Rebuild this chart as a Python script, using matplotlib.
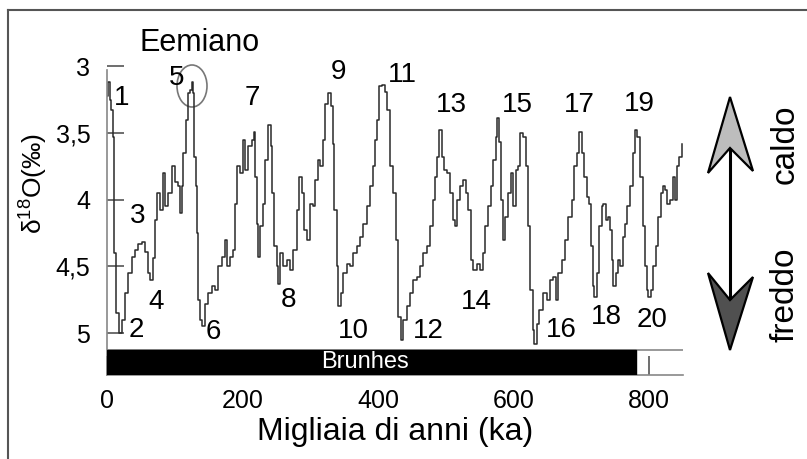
import matplotlib
matplotlib.use("Agg")
import matplotlib.pyplot as plt
from matplotlib.patches import Polygon, Ellipse, Rectangle

plt.rcParams['font.family'] = ['Liberation Sans', 'DejaVu Sans']
plt.rcParams['mathtext.fontset'] = 'custom'
plt.rcParams['mathtext.rm'] = 'Liberation Sans'

# curva delta18O (ka, per mille)
eta = [0, 2, 4, 6, 9, 11, 13, 18, 22, 27, 31, 37, 41, 46, 52, 56, 60, 63, 68, 71,
       74, 78, 83, 86, 90, 96, 100, 105, 108, 111, 112, 117, 120, 123, 125, 127, 128, 131, 133, 134,
       137, 140, 145, 149, 155, 159, 164, 170, 174, 177, 182, 186, 189, 192, 196, 201, 204, 208, 214, 217,
       219, 221, 223, 226, 230, 233, 238, 242, 244, 247, 251, 252, 255, 260, 266, 270, 275, 280, 283, 288,
       291, 295, 300, 304, 307, 311, 314, 319, 322, 326, 331, 334, 335, 340, 341, 345, 348, 354, 359, 363,
       369, 373, 378, 384, 388, 393, 396, 399, 402, 406, 410, 413, 418, 422, 427, 430, 434, 437, 443, 447,
       452, 458, 462, 466, 472, 477, 481, 484, 487, 490, 495, 497, 502, 506, 511, 514, 517, 521, 526, 530,
       533, 537, 540, 546, 551, 555, 558, 562, 567, 570, 574, 576, 579, 582, 585, 588, 592, 596, 599, 604,
       607, 610, 614, 619, 621, 624, 629, 630, 635, 638, 644, 649, 654, 658, 663, 666, 672, 676, 680, 686,
       689, 694, 697, 701, 704, 709, 711, 714, 717, 719, 723, 726, 731, 732, 737, 740, 742, 745, 747, 751,
       754, 757, 762, 765, 768, 772, 776, 779, 782, 787, 791, 794, 797, 799, 803, 806, 810, 813, 818, 821,
       824, 827, 831, 835, 838, 841, 844, 849]
d18o = [3.22, 3.12, 3.25, 3.33, 3.53, 4.40, 4.85, 5.00, 4.90, 4.70, 4.55, 4.43, 4.38, 4.33, 4.32, 4.39, 4.55, 4.60, 4.44, 4.15,
        3.95, 4.08, 3.80, 4.05, 3.95, 3.75, 3.87, 3.90, 4.10, 3.90, 3.65, 3.40, 3.20, 3.18, 3.12, 3.20, 3.68, 3.90, 4.25, 4.75,
        4.90, 4.95, 4.78, 4.70, 4.65, 4.68, 4.50, 4.43, 4.30, 4.50, 4.43, 4.38, 4.03, 3.75, 3.80, 3.55, 3.78, 3.60, 3.55, 3.49,
        3.83, 4.18, 4.43, 4.20, 4.03, 3.70, 3.44, 3.60, 3.95, 4.35, 4.50, 4.63, 4.40, 4.50, 4.45, 4.53, 4.38, 4.08, 3.83, 3.95,
        4.23, 4.30, 4.03, 4.05, 3.85, 3.70, 3.75, 3.55, 3.28, 3.20, 3.30, 3.58, 4.08, 4.50, 4.80, 4.70, 4.55, 4.48, 4.50, 4.40,
        4.35, 4.28, 4.18, 4.05, 3.90, 3.75, 3.55, 3.40, 3.15, 3.14, 3.19, 3.33, 3.75, 3.95, 4.30, 4.88, 5.05, 4.90, 4.80, 4.70,
        4.60, 4.58, 4.50, 4.40, 4.35, 4.20, 4.00, 3.83, 3.68, 3.48, 3.68, 3.78, 3.80, 3.95, 4.15, 4.20, 4.00, 3.90, 3.85, 3.95,
        4.08, 4.45, 4.53, 4.48, 4.53, 4.40, 4.20, 4.05, 3.90, 3.70, 3.53, 3.39, 3.57, 4.00, 4.30, 4.13, 3.95, 3.80, 4.05, 3.78,
        3.75, 3.50, 3.53, 3.75, 4.20, 4.68, 4.98, 5.08, 4.93, 4.83, 4.70, 4.75, 4.60, 4.58, 4.75, 4.55, 4.45, 4.30, 4.13, 4.00,
        3.75, 3.65, 3.49, 3.65, 3.83, 3.98, 4.03, 4.35, 4.65, 4.73, 4.55, 4.20, 4.05, 4.03, 4.15, 4.13, 4.23, 4.45, 4.65, 4.55,
        4.45, 4.50, 4.28, 4.18, 4.05, 3.90, 3.65, 3.48, 3.53, 3.83, 4.20, 4.50, 4.68, 4.73, 4.68, 4.50, 4.35, 4.13, 3.95, 3.90,
        3.93, 4.03, 4.00, 3.83, 4.00, 3.75, 3.68, 3.58]

stadi = ['1', '2', '3', '4', '5', '6', '7', '8', '9', '10',
         '11', '12', '13', '14', '15', '16', '17', '18', '19', '20']
stadi_xy = [(122, 98), (136, 330), (138, 216), (156, 302), (177, 78), (213, 332), (252, 98),
            (289, 300), (339, 72), (353, 331), (402, 75), (428, 331), (451, 105), (476, 302),
            (517, 105), (561, 330), (579, 105), (606, 317), (639, 104), (652, 320)]

yticks = [3, 3.5, 4, 4.5, 5]
ylabels = ['3', '3,5', '4', '4,5', '5']
xticks = [0, 200, 400, 600, 800]
brunhes_fine = 780

W, H = 807, 459
fig = plt.figure(figsize=(W / 100, H / 100), dpi=100)

# sfondo in pixel per cornice, freccia, etichette
bg = fig.add_axes([0, 0, 1, 1])
bg.set_xlim(0, W)
bg.set_ylim(H, 0)
bg.axis('off')

ax = fig.add_axes([107 / W, 84 / H, 576 / W, 315.3 / H])
ax.patch.set_alpha(0)
ax.plot(eta, d18o, drawstyle='steps-post', color='#2a2a2a', lw=1.1)
ax.set_xlim(0, 850)
ax.set_ylim(5.315, 2.95)

# barra Brunhes
ax.add_patch(Rectangle((0, 5.128), brunhes_fine, 0.187, color='black', zorder=3))
ax.plot([0, 850], [5.128, 5.128], color='#888888', lw=1.2, zorder=2)
ax.text(381, 5.215, 'Brunhes', color='white', fontsize=17,
        ha='center', va='center', zorder=4)

for s in ['top', 'right']:
    ax.spines[s].set_visible(False)
ax.spines['left'].set_bounds(3.03, 5.315)
ax.spines['left'].set_color('#888888')
ax.spines['bottom'].set_color('#888888')
ax.spines['left'].set_linewidth(1.2)
ax.spines['bottom'].set_linewidth(1.2)

ax.set_yticks(yticks)
ax.set_yticklabels(ylabels)
ax.set_xticks(xticks)
ax.tick_params(axis='y', direction='in', length=12, width=1.2, color='#555555',
               labelsize=18, pad=12)
ax.tick_params(axis='x', direction='in', length=14, width=1.2, color='#555555',
               labelsize=18, pad=10)
ax.set_xlabel('Migliaia di anni (ka)', fontsize=23, labelpad=3)

fig.text(33 / W, 1 - 183 / H, 'δ$^{\\mathregular{18}}$O(‰)', rotation=90,
         fontsize=19, ha='center', va='center')

for lab, (px, py) in zip(stadi, stadi_xy):
    bg.text(px, py, lab, fontsize=20, ha='center', va='center')
bg.text(200, 43, 'Eemiano', fontsize=22, ha='center', va='center')
bg.add_patch(Ellipse((192, 86), 30, 42, fill=False, edgecolor='#777777', lw=1.2))

# cornice
bg.plot([8, W], [10, 10], color='#555555', lw=1.5)
bg.plot([8, 8], [10, H], color='#555555', lw=1.5)

# freccia caldo / freddo
bg.plot([730, 730], [150, 298], color='black', lw=2.2)
bg.add_patch(Polygon([(730, 97), (753, 171), (730, 148), (708, 173)],
                     closed=True, facecolor='#bdbdbd', edgecolor='black', lw=1.6))
bg.add_patch(Polygon([(730, 350), (753, 277), (730, 300), (708, 273)],
                     closed=True, facecolor='#505050', edgecolor='black', lw=1.6))
bg.text(785, 144, 'caldo', rotation=90, fontsize=24, ha='center', va='center')
bg.text(785, 295, 'freddo', rotation=90, fontsize=24, ha='center', va='center')

fig.savefig('out.png', dpi=100)
